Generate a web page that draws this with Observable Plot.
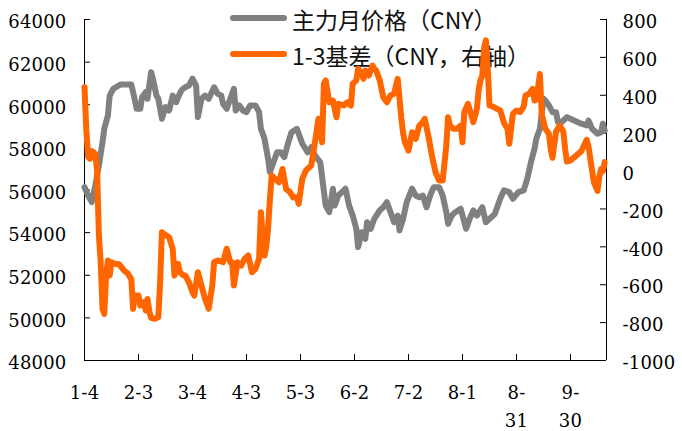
<!DOCTYPE html>
<html>
<head>
<meta charset="utf-8">
<script src="https://cdn.jsdelivr.net/npm/d3@7"></script>
<script src="https://cdn.jsdelivr.net/npm/@observablehq/plot@0.6"></script>
<style>
  body { margin: 0; background: #fff; }
  #wrap { position: relative; width: 682px; height: 431px; }
  #legend { position: absolute; left: 0; top: 0; z-index: 0; font-family: "Noto Sans CJK SC", sans-serif; font-size: 23px; color: #111; }
  .row { position: absolute; left: 230px; display: flex; align-items: center; white-space: nowrap; height: 23px; line-height: 23px; }
  .sw { width: 57px; height: 6px; border-radius: 3px; margin-right: 5px; position: relative; top: -2px; }
  #chart { position: absolute; left: 0; top: 0; z-index: 1; }
  #chart svg text { font-family: "DejaVu Serif", "Liberation Serif", "Noto Serif", serif !important; }
</style>
</head>
<body>
<div id="wrap"><div id="legend"></div><div id="chart"></div></div>
<script>
// Series labels and colours
const seriesNames = ["主力月价格（CNY）", "1-3基差（CNY，右轴）"];
const seriesColors = ["#808080", "#ff6600"];

// Main-contract price (left axis), 2016
const priceDates = [
  "01-04","01-06","01-08","01-10","01-12","01-14","01-15","01-17","01-18","01-20",
  "01-24","01-30","01-31","02-02","02-04","02-05","02-07","02-08","02-10","02-11",
  "02-13","02-14","02-16","02-18","02-20","02-22","02-24","02-25","02-27","02-29",
  "03-02","03-04","03-06","03-07","03-09","03-11","03-13","03-16","03-18","03-20",
  "03-21","03-23","03-25","03-27","03-28","03-30","04-01","04-03","04-05","04-08",
  "04-10","04-11","04-13","04-14","04-15","04-16","04-18","04-20","04-22","04-24",
  "04-26","04-28","05-01","05-04","05-07","05-09","05-11","05-14","05-17","05-19",
  "05-21","05-22","05-24","05-26","05-28","05-30","06-01","06-03","06-04","06-06",
  "06-08","06-09","06-11","06-13","06-16","06-18","06-20","06-22","06-24","06-26",
  "06-27","06-29","07-01","07-04","07-06","07-08","07-10","07-12","07-14","07-16",
  "07-19","07-21","07-23","07-24","07-26","07-28","07-31","08-03","08-05","08-07",
  "08-09","08-12","08-14","08-17","08-19","08-22","08-24","08-27","08-29","09-01",
  "09-04","09-06","09-08","09-10","09-11","09-13","09-15","09-16","09-18","09-20",
  "09-22","09-23","09-25","09-28","10-02","10-06","10-09","10-10","10-12","10-15",
  "10-17","10-18","10-19"
];
const priceValues = [
  56130,55740,55430,56210,57150,58240,58870,59500,60430,60750,
  60950,60950,60590,59810,59810,60360,60590,60280,61530,61220,
  60430,60280,59340,59890,59730,60430,60120,60360,60700,60820,
  60900,61220,60900,59420,60280,60430,60280,60820,60510,60430,
  60040,59810,60280,60750,59730,59970,59730,59650,59970,59970,
  59650,58870,58400,57930,57460,56840,57300,57770,57770,57540,
  58170,58710,58870,58170,57770,58010,57620,57300,55270,54960,
  56060,55270,55740,55900,56060,55270,54800,54180,53320,54020,
  53710,54490,54180,54650,55040,55190,55430,54960,54490,54800,
  54100,54650,55430,56060,55740,55660,55740,55190,55740,56130,
  56130,55740,54960,54410,54800,54960,55120,54180,54650,55040,
  54800,55190,54490,54720,54880,55600,55980,55900,55590,55900,
  55980,56530,57300,57930,58400,58870,60280,60200,59970,59650,
  59650,59180,59180,59420,59260,59110,59030,59260,58870,58640,
  58710,59110,58790
];

// 1-3 spread (right axis), 2016
const spreadDates = [
  "01-04","01-05","01-06","01-07","01-08","01-09","01-10","01-11","01-12","01-13",
  "01-14","01-15","01-16","01-17","01-18","01-19","01-21","01-23","01-26","01-28",
  "01-30","01-31","02-01","02-03","02-04","02-06","02-07","02-08","02-09","02-10",
  "02-12","02-14","02-15","02-16","02-17","02-20","02-22","02-23","02-25","02-26",
  "02-28","02-29","03-02","03-04","03-05","03-07","03-09","03-11","03-13","03-15",
  "03-16","03-18","03-21","03-23","03-25","03-26","03-27","03-29","03-31","04-02",
  "04-04","04-06","04-08","04-10","04-11","04-12","04-13","04-14","04-15","04-16",
  "04-17","04-19","04-21","04-23","04-25","04-27","04-29","05-01","05-02","05-04",
  "05-06","05-09","05-11","05-13","05-15","05-16","05-17","05-19","05-21","05-23",
  "05-24","05-27","05-29","05-31","06-01","06-03","06-04","06-06","06-07","06-08",
  "06-10","06-12","06-13","06-14","06-16","06-17","06-18","06-20","06-22","06-24",
  "06-26","06-28","06-29","06-30","07-02","07-04","07-06","07-08","07-10","07-11",
  "07-13","07-15","07-17","07-19","07-21","07-23","07-24","07-25","07-27","07-29",
  "07-31","08-01","08-02","08-04","08-06","08-07","08-09","08-10","08-11","08-12",
  "08-13","08-14","08-15","08-16","08-18","08-20","08-22","08-24","08-26","08-27",
  "08-29","08-31","09-02","09-04","09-05","09-07","09-09","09-10","09-11","09-12",
  "09-13","09-14","09-16","09-18","09-19","09-20","09-22","09-24","09-26","09-27",
  "09-28","09-30","10-03","10-06","10-09","10-10","10-11","10-13","10-15","10-16",
  "10-17","10-18","10-19"
];
const spreadValues = [
  443,220,75,65,105,100,91,0,-340,-481,
  -727,-754,-551,-472,-551,-481,-490,-490,-525,-540,
  -570,-727,-657,-657,-710,-692,-736,-675,-740,-775,
  -780,-772,-590,-323,-331,-349,-410,-551,-490,-534,
  -551,-551,-587,-640,-657,-534,-604,-675,-727,-604,
  -481,-472,-481,-410,-481,-481,-604,-481,-499,-463,
  -446,-534,-516,-463,-217,-340,-446,-400,-300,-150,
  -24,-42,-59,11,-94,-110,-140,-138,-173,-41,
  3,30,150,276,152,461,478,363,372,284,
  355,346,363,346,461,478,540,513,487,531,
  504,557,540,531,480,434,390,363,399,408,
  487,280,200,152,108,205,170,240,258,276,
  188,82,-6,-50,-50,135,284,240,223,223,
  240,152,311,355,293,258,329,430,480,504,
  650,690,550,346,340,329,320,255,223,144,
  302,320,311,340,399,408,434,372,380,443,
  513,300,223,197,117,70,210,240,210,120,
  50,56,80,105,165,130,65,-60,-105,-30,
  10,0,47
];

// Axis ticks
const leftTicks = [48000, 50000, 52000, 54000, 56000, 58000, 60000, 62000, 64000];
const rightTicks = [-1000, -800, -600, -400, -200, 0, 200, 400, 600, 800];
const xTickDates = ["01-04","02-03","03-04","04-03","05-03","06-02","07-02","08-01","08-31","09-30"];
const xStart = "01-04", xEnd = "10-20";

const leftDomain = [48000, 64000];
const rightDomain = [-1000, 800];
const k = (leftDomain[1] - leftDomain[0]) / (rightDomain[1] - rightDomain[0]);
const toLeft = v => leftDomain[0] + (v - rightDomain[0]) * k;
const fromLeft = v => rightDomain[0] + (v - leftDomain[0]) / k;

const parse = d3.utcParse("%Y-%m-%d");
const toDate = s => parse("2016-" + s);

const price = priceDates.map((d, i) => ({date: toDate(d), value: priceValues[i]}));
const spread = spreadDates.map((d, i) => ({date: toDate(d), value: spreadValues[i]}));

// Month-day labels; a two-digit day wraps onto a second line
const xTicks = xTickDates.map(toDate);
const wrapped = xTicks.filter(d => d.getUTCDate() >= 10);
const fmtFirst = d => {
  const m = d.getUTCMonth() + 1, day = d.getUTCDate();
  return day >= 10 ? `${m}-` : `${m}-${day}`;
};
const fmtSecond = d => String(d.getUTCDate());

const W = 682, H = 431, ML = 84, MR = 76, MT = 19, MB = 71;
const plotW = W - ML - MR, plotH = H - MT - MB;
const TICK = 6; // inward tick length

const chart = Plot.plot({
  width: W,
  height: H,
  marginLeft: ML,
  marginRight: MR,
  marginTop: MT,
  marginBottom: MB,
  style: "background: transparent; font-size: 18px; letter-spacing: 0.2px; overflow: visible; color: #000;",
  x: {type: "utc", domain: [toDate(xStart), toDate(xEnd)]},
  y: {domain: leftDomain},
  marks: [
    Plot.axisY({anchor: "left", ticks: leftTicks, tickSize: 0, tickPadding: 18, tickFormat: d => String(d), label: null}),
    Plot.axisY({anchor: "right", ticks: rightTicks.map(toLeft), tickSize: 0, tickPadding: 16,
      tickFormat: v => String(Math.round(fromLeft(v))), label: null}),
    Plot.axisX({ticks: xTicks, tickSize: 0, tickPadding: 26, tickFormat: fmtFirst, label: null}),
    Plot.axisX({ticks: wrapped, tickSize: 0, tickPadding: 54, tickFormat: fmtSecond, label: null}),
    // inward tick marks
    Plot.tickY(leftTicks, {y: d => d, insetRight: plotW - TICK, stroke: "#000", strokeWidth: 1}),
    Plot.tickY(rightTicks.map(toLeft), {y: d => d, insetLeft: plotW - TICK, stroke: "#000", strokeWidth: 1}),
    Plot.tickX(xTicks, {x: d => d, insetTop: plotH - TICK, stroke: "#000", strokeWidth: 1}),
    Plot.ruleX([toDate(xStart), toDate(xEnd)], {stroke: "#000"}),
    Plot.ruleY([leftDomain[0]], {stroke: "#000"}),
    Plot.line(price, {x: "date", y: "value", stroke: seriesColors[0], strokeWidth: 6, strokeLinejoin: "round", strokeLinecap: "round"}),
    Plot.line(spread, {x: "date", y: d => toLeft(d.value), stroke: seriesColors[1], strokeWidth: 6, strokeLinejoin: "round", strokeLinecap: "round"})
  ]
});

// Nudge the y tick labels slightly below their ticks
chart.querySelectorAll('g[aria-label="y-axis tick label"]').forEach(g => {
  g.setAttribute("transform", (g.getAttribute("transform") || "") + " translate(0,3)");
});
document.getElementById("chart").appendChild(chart);

// Legend, placed beneath the plot so the lines run over it
const legend = document.getElementById("legend");
const rowTops = [8, 44];
seriesNames.forEach((name, i) => {
  const row = document.createElement("div");
  row.className = "row";
  row.style.top = rowTops[i] + "px";
  const sw = document.createElement("div");
  sw.className = "sw";
  sw.style.background = seriesColors[i];
  const label = document.createElement("span");
  label.textContent = name;
  row.appendChild(sw);
  row.appendChild(label);
  legend.appendChild(row);
});
</script>
</body>
</html>
